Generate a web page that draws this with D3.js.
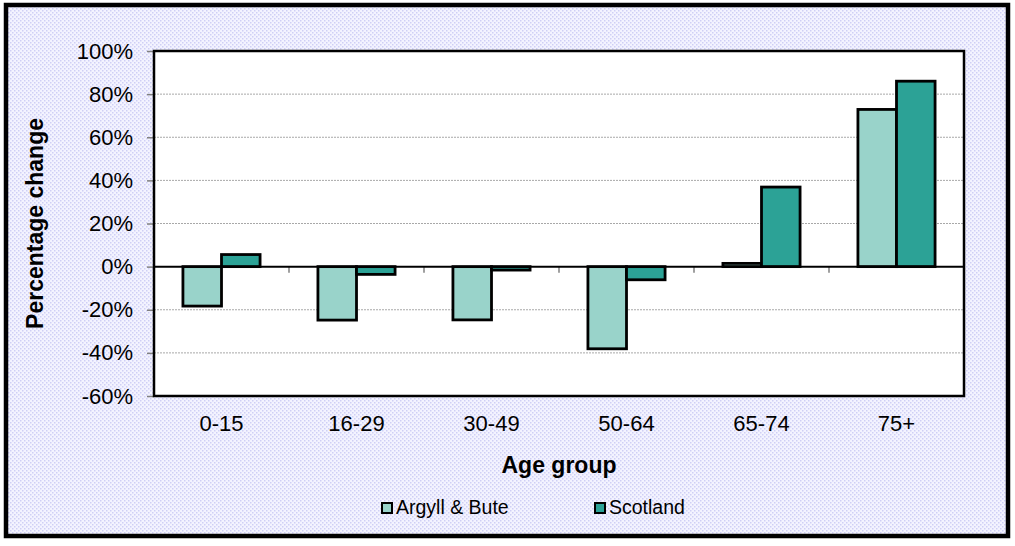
<!DOCTYPE html>
<html>
<head>
<meta charset="utf-8">
<script src="https://cdn.jsdelivr.net/npm/d3@7"></script>
<style>
  html, body { margin: 0; padding: 0; background: #fff; }
  svg { display: block; font-family: Arial, "Liberation Sans", sans-serif; }
</style>
</head>
<body>
<svg id="chart" width="1015" height="546"></svg>
<script>
// Population change by age group
const categories = ["0-15", "16-29", "30-49", "50-64", "65-74", "75+"];
const argyllBute = [-18.3, -24.8, -24.7, -38.1, 1.5, 72.9];
const scotland   = [5.6, -3.6, -1.6, -6.1, 36.9, 86.0];
const seriesNames = ["Argyll & Bute", "Scotland"];
const seriesColors = ["#99d3ca", "#2ca296"];
const yTicks = [-60, -40, -20, 0, 20, 40, 60, 80, 100];

const svg = d3.select("#chart");

// dotted lavender backdrop
const defs = svg.append("defs");
const pat = defs.append("pattern")
  .attr("id", "dots").attr("width", 4).attr("height", 4)
  .attr("patternUnits", "userSpaceOnUse");
pat.append("rect").attr("width", 4).attr("height", 4).attr("fill", "#f3f3ff");
pat.append("rect").attr("x", 0).attr("y", 0).attr("width", 1.5).attr("height", 1.5).attr("fill", "#cfcff5");
pat.append("rect").attr("x", 2).attr("y", 2).attr("width", 1.5).attr("height", 1.5).attr("fill", "#cfcff5");

svg.append("rect")
  .attr("x", 6).attr("y", 5).attr("width", 1002).attr("height", 531)
  .attr("fill", "url(#dots)").attr("stroke", "#000").attr("stroke-width", 4.5);

const plot = { left: 154, top: 51, right: 964, bottom: 396 };

const x = d3.scaleBand().domain(categories).range([plot.left, plot.right]).padding(0);
const gapFrac = 1.5 / 3.5;
const xs = d3.scaleBand().domain(seriesNames)
  .range([x.bandwidth() * gapFrac / 2, x.bandwidth() * (1 - gapFrac / 2)]).padding(0);
const y = d3.scaleLinear().domain([-60, 100]).range([plot.bottom, plot.top]);

// plot area
svg.append("rect")
  .attr("x", plot.left).attr("y", plot.top)
  .attr("width", plot.right - plot.left).attr("height", plot.bottom - plot.top)
  .attr("fill", "#fff");

// gridlines
svg.append("g").selectAll("line")
  .data(yTicks.filter(t => t !== 0 && t !== -60 && t !== 100))
  .join("line")
  .attr("x1", plot.left).attr("x2", plot.right)
  .attr("y1", d => y(d)).attr("y2", d => y(d))
  .attr("stroke", "#a8a8a8").attr("stroke-width", 1).attr("stroke-dasharray", "2,1");

// y axis
const yAxis = d3.axisLeft(y).tickValues(yTicks).tickFormat(d => d + "%").tickSize(7).tickPadding(14);
const gy = svg.append("g").attr("transform", `translate(${plot.left},0)`).call(yAxis);
gy.select(".domain").remove();
gy.selectAll(".tick line").attr("stroke", "#808080").attr("stroke-width", 1.5);
gy.selectAll(".tick text").attr("font-size", 22).attr("fill", "#000")
  .attr("font-family", "Arial, 'Liberation Sans', sans-serif");

// category ticks hang from the zero line at band boundaries
const boundaries = categories.map(c => x(c)).concat([plot.right]);
svg.append("g").selectAll("line").data(boundaries).join("line")
  .attr("x1", d => d).attr("x2", d => d)
  .attr("y1", y(0)).attr("y2", y(0) + 6)
  .attr("stroke", "#808080").attr("stroke-width", 1.5);

// category labels
svg.append("g").selectAll("text").data(categories).join("text")
  .attr("x", d => x(d) + x.bandwidth() / 2)
  .attr("y", 431)
  .attr("text-anchor", "middle").attr("font-size", 22).attr("fill", "#000")
  .text(d => d);

// bars
const rows = categories.map((c, i) => ({ cat: c, values: [argyllBute[i], scotland[i]] }));
const groups = svg.append("g").selectAll("g").data(rows).join("g")
  .attr("transform", d => `translate(${x(d.cat)},0)`);
groups.selectAll("rect")
  .data(d => d.values.map((v, j) => ({ name: seriesNames[j], v, j })))
  .join("rect")
  .attr("x", d => xs(d.name))
  .attr("width", xs.bandwidth())
  .attr("y", d => y(Math.max(0, d.v)))
  .attr("height", d => Math.abs(y(d.v) - y(0)))
  .attr("fill", d => seriesColors[d.j])
  .attr("stroke", "#000").attr("stroke-width", 2.8);

// zero line
svg.append("line")
  .attr("x1", plot.left).attr("x2", plot.right)
  .attr("y1", y(0)).attr("y2", y(0))
  .attr("stroke", "#000").attr("stroke-width", 2);

// plot border
svg.append("rect")
  .attr("x", plot.left).attr("y", plot.top)
  .attr("width", plot.right - plot.left).attr("height", plot.bottom - plot.top)
  .attr("fill", "none").attr("stroke", "#000").attr("stroke-width", 2.5);

// axis titles
svg.append("text")
  .attr("x", (plot.left + plot.right) / 2).attr("y", 473)
  .attr("text-anchor", "middle").attr("font-size", 23).attr("font-weight", "bold")
  .text("Age group");
svg.append("text")
  .attr("transform", `translate(43,${(plot.top + plot.bottom) / 2}) rotate(-90)`)
  .attr("text-anchor", "middle").attr("font-size", 23).attr("font-weight", "bold")
  .text("Percentage change");

// legend
const legendX = [381, 594];
const legend = svg.append("g").selectAll("g").data(seriesNames).join("g")
  .attr("transform", (d, i) => `translate(${legendX[i]},502)`);
legend.append("rect")
  .attr("x", 1).attr("y", 1).attr("width", 10).attr("height", 10)
  .attr("fill", (d, i) => seriesColors[i]).attr("stroke", "#000").attr("stroke-width", 2);
legend.append("text")
  .attr("x", 15).attr("y", 12)
  .attr("font-size", 19.5).attr("fill", "#000")
  .text(d => d);
</script>
</body>
</html>
